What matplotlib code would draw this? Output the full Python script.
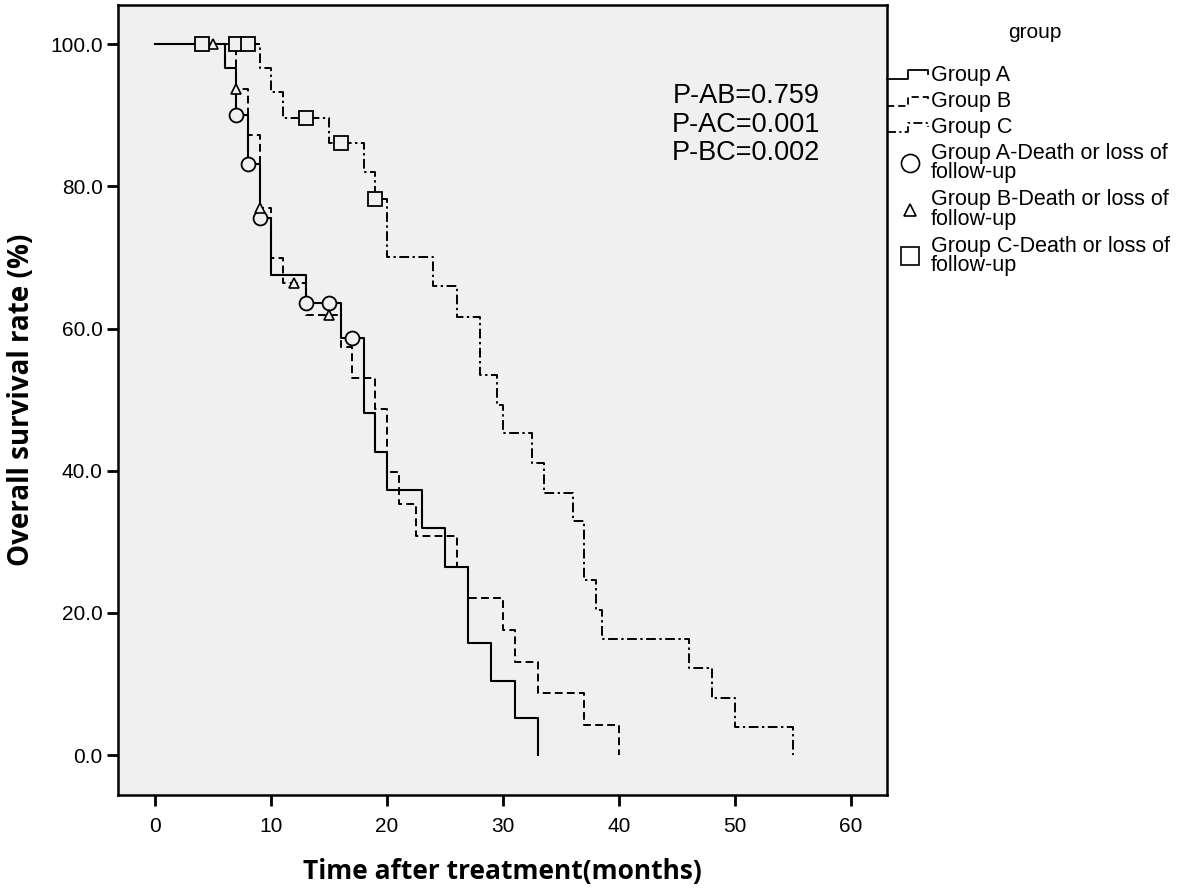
import matplotlib
matplotlib.use("Agg")
import matplotlib.pyplot as plt
from matplotlib.lines import Line2D

# Kaplan-Meier steps (months, survival %)
a_time = [0, 6, 7, 8, 9, 10, 13, 16, 18, 19, 20, 23, 25, 27, 29, 31, 33]
a_surv = [100, 96.7, 90.0, 83.1, 75.5, 67.5, 63.6, 58.7, 48.1, 42.6, 37.3, 31.9, 26.5, 15.8, 10.5, 5.2, 0]

b_time = [0, 7, 8, 9, 10, 11, 13, 16, 17, 19, 20, 21, 22.5, 26, 27, 30, 31, 33, 37, 40]
b_surv = [100, 93.7, 87.2, 76.9, 69.9, 66.4, 61.9, 57.4, 53.0, 48.7, 39.8, 35.3, 30.8, 26.4, 22.1, 17.6, 13.1, 8.7, 4.2, 0]

c_time = [0, 9, 10, 11, 15, 18, 19, 20, 24, 26, 28, 29.5, 30, 32.5, 33.5, 36, 37, 38, 38.5, 46, 48, 50, 55]
c_surv = [100, 96.6, 93.2, 89.6, 86.1, 82.0, 78.2, 70.0, 66.0, 61.6, 53.4, 49.2, 45.3, 41.1, 36.9, 32.9, 24.6, 20.4, 16.3, 12.2, 8.1, 4.0, 0]

# censored cases
a_cens_t = [7, 8, 9, 13, 15, 17]
a_cens_s = [90.0, 83.1, 75.5, 63.6, 63.6, 58.7]
b_cens_t = [5, 7, 9, 12, 15]
b_cens_s = [100, 93.7, 76.9, 66.4, 61.9]
c_cens_t = [4, 7, 8, 13, 16, 19]
c_cens_s = [100, 100, 100, 89.6, 86.1, 78.2]

p_text = ["P-AB=0.759", "P-AC=0.001", "P-BC=0.002"]
leg_lines = ["Group A", "Group B", "Group C"]
leg_marks = ["Group A-Death or loss of\nfollow-up",
             "Group B-Death or loss of\nfollow-up",
             "Group C-Death or loss of\nfollow-up"]

plt.rcParams['font.family'] = ['Liberation Sans', 'DejaVu Sans']

W, H = 1181, 890
fig = plt.figure(figsize=(W / 100, H / 100), dpi=100)
ax = fig.add_axes([118 / W, 1 - 795 / H, (887 - 118) / W, (795 - 5) / H])
ax.set_facecolor('#f0f0f0')

bg = '#f0f0f0'
sty_a = '-'
sty_b = (0, (4, 2.2))
sty_c = (0, (5, 1.8, 1.2, 1.8))

ax.step(a_time, a_surv, where='post', color='black', lw=1.5, ls=sty_a)
ax.step(b_time, b_surv, where='post', color='black', lw=1.4, ls=sty_b)
ax.step(c_time, c_surv, where='post', color='black', lw=1.4, ls=sty_c)

ax.plot(a_cens_t, a_cens_s, 'o', ms=10, mfc=bg, mec='black', mew=1.3, ls='none')
ax.plot(b_cens_t, b_cens_s, '^', ms=7, mfc=bg, mec='black', mew=1.2, ls='none')
ax.plot(c_cens_t, c_cens_s, 's', ms=10, mfc=bg, mec='black', mew=1.3, ls='none')

ax.set_xlim(-3.2, 63.1)
ax.set_ylim(-5.6, 105.5)
ax.set_xticks([0, 10, 20, 30, 40, 50, 60])
ax.set_yticks([0, 20, 40, 60, 80, 100])
ax.set_yticklabels(['%.1f' % v for v in [0, 20, 40, 60, 80, 100]])
ax.tick_params(labelsize=15, length=8, width=2, direction='out')
ax.tick_params(axis='x', pad=8)
ax.tick_params(axis='y', pad=3)
for s in ax.spines.values():
    s.set_linewidth(1.8)

ax.set_xlabel('Time after treatment(months)', fontsize=19, fontweight='bold',
              family='Open Sans', labelpad=16)
ax.set_ylabel('Overall survival rate (%)', fontsize=20, fontweight='bold',
              family='Open Sans', labelpad=10)

for i, t in enumerate(p_text):
    fig.text(746 / W, 1 - (96 + 28.5 * i) / H, t, fontsize=19.5,
             ha='center', va='center')

# legend outside the axes, SPSS style
def fx(x):
    return x / W

def fy(y):
    return 1 - y / H

fig.text(fx(1035), fy(33), 'group', fontsize=15, ha='center', va='center')
styles = [sty_a, sty_b, sty_c]
for i, lab in enumerate(leg_lines):
    yc = 75 + 26.5 * i
    xs = [887, 908, 908, 928, 928]
    ys = [yc + 4, yc + 4, yc - 5, yc - 5, yc - 1]
    fig.add_artist(Line2D([fx(v) for v in xs], [fy(v) for v in ys],
                          color='black', lw=1.3, ls=styles[i]))
    fig.text(fx(931), fy(yc), lab, fontsize=15.5, ha='left', va='center')

mk = ['o', '^', 's']
msz = [13, 9, 13]
for i, lab in enumerate(leg_marks):
    yc = 163 + 46.5 * i
    fig.add_artist(Line2D([fx(910)], [fy(yc)], marker=mk[i], ms=msz[i],
                          mfc='white', mec='black', mew=1.2, ls='none'))
    fig.text(fx(931), fy(yc), lab, fontsize=15.5, ha='left', va='center',
             linespacing=0.88)

fig.savefig('out.png', dpi=100)
